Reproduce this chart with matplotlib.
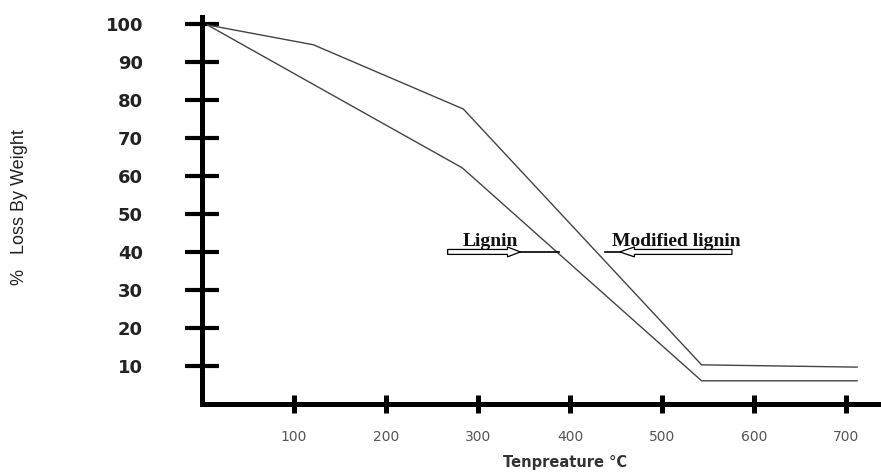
import matplotlib
matplotlib.use("Agg")
import matplotlib.pyplot as plt
from matplotlib.patches import FancyArrow

# data
modified_x = [6, 121, 284, 543, 712]
modified_y = [99.7, 94.5, 77.6, 10.3, 9.7]
lignin_x = [6, 126, 283, 543, 712]
lignin_y = [99.7, 83.4, 62.1, 6.1, 6.1]
xticks = [100, 200, 300, 400, 500, 600, 700]
yticks = [10, 20, 30, 40, 50, 60, 70, 80, 90, 100]

fig = plt.figure(figsize=(8.81, 4.72), dpi=100)
ax = fig.add_axes([202 / 881, 68 / 472, 679 / 881, 387 / 472])

ax.plot(modified_x, modified_y, color="#444444", lw=1.0)
ax.plot(lignin_x, lignin_y, color="#444444", lw=1.0)

ax.set_xlim(0, 738)
ax.set_ylim(0, 101.8)

for s in ["top", "right"]:
	ax.spines[s].set_visible(False)
for s in ["left", "bottom"]:
	ax.spines[s].set_linewidth(3.6)
	ax.spines[s].set_color("black")

ax.set_yticks(yticks)
ax.set_yticklabels([str(v) for v in yticks], fontsize=13, fontweight="bold", color="#222222")
ax.tick_params(axis="y", direction="inout", length=25, width=3, pad=30)
ax.set_xticks(xticks)
ax.set_xticklabels([str(v) for v in xticks], fontsize=10, color="#555555")
ax.tick_params(axis="x", direction="inout", length=13, width=3.6, pad=12)

# arrows and labels
ax.add_patch(FancyArrow(267, 40, 79, 0, width=1.3, head_width=2.6, head_length=14,
	length_includes_head=True, fc="white", ec="black", lw=0.9))
ax.plot([346, 388], [40, 40], color="black", lw=1.2)
ax.add_patch(FancyArrow(576, 40, -122, 0, width=1.3, head_width=2.6, head_length=16,
	length_includes_head=True, fc="white", ec="black", lw=0.9))
ax.plot([438, 454], [40, 40], color="black", lw=1.2)

ax.text(283, 41.6, "Lignin", fontsize=14, fontweight="bold", family="Liberation Serif",
	color="#111111", va="baseline")
ax.text(446, 41.6, "Modified lignin", fontsize=14, fontweight="bold", family="Liberation Serif",
	color="#111111", va="baseline")

fig.text(20 / 881, 1 - 207 / 472, "%   Loss By Weight", rotation=90, fontsize=13,
	family=["Liberation Sans Narrow", "Liberation Sans"], color="#222222", ha="center", va="center")
fig.text(565 / 881, 1 - 462 / 472, "Tenpreature °C", fontsize=10.5, fontweight="bold",
	color="#333333", ha="center", va="center")

fig.savefig("out.png", dpi=100)
